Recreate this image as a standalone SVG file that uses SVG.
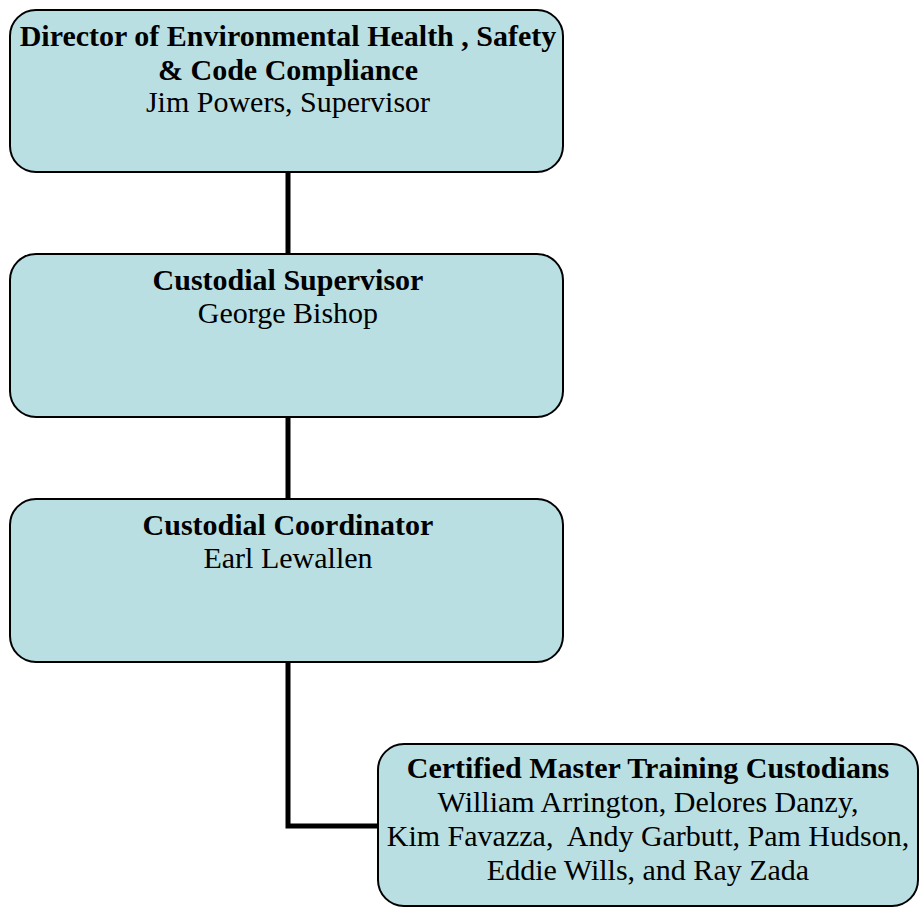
<svg xmlns="http://www.w3.org/2000/svg" width="920" height="909" viewBox="0 0 920 909">
<style>
.box{fill:#b9dfe3;stroke:#000;stroke-width:2}
.t{font-family:"Liberation Serif","Times New Roman",serif;font-size:30px;text-anchor:middle;fill:#000}
.b{font-weight:bold}
.c{fill:none;stroke:#000;stroke-width:5}
</style>
<rect width="920" height="909" fill="#fff"/>
<g id="connectors">
<line class="c" x1="288" y1="172" x2="288" y2="254"/>
<line class="c" x1="288" y1="417" x2="288" y2="499"/>
<polyline class="c" points="288,662 288,826 378,826"/>
</g>
<g id="director">
<rect class="box" x="10" y="10" width="553" height="162" rx="26"/>
<text class="t b" x="288" y="46">Director of Environmental Health , Safety</text>
<text class="t b" x="288" y="80">&amp; Code Compliance</text>
<text class="t" x="288" y="112">Jim Powers, Supervisor</text>
</g>
<g id="supervisor">
<rect class="box" x="10" y="254" width="553" height="163" rx="26"/>
<text class="t b" x="288" y="290">Custodial Supervisor</text>
<text class="t" x="288" y="323">George Bishop</text>
</g>
<g id="coordinator">
<rect class="box" x="10" y="499" width="553" height="163" rx="26"/>
<text class="t b" x="288" y="535">Custodial Coordinator</text>
<text class="t" x="288" y="568">Earl Lewallen</text>
</g>
<g id="custodians">
<rect class="box" x="378" y="744" width="540" height="162" rx="26"/>
<text class="t b" x="648" y="778">Certified Master Training Custodians</text>
<text class="t" x="648" y="812">William Arrington, Delores Danzy,</text>
<text class="t" x="648" y="846" xml:space="preserve">Kim Favazza,  Andy Garbutt, Pam Hudson,</text>
<text class="t" x="648" y="880">Eddie Wills, and Ray Zada</text>
</g>
</svg>
